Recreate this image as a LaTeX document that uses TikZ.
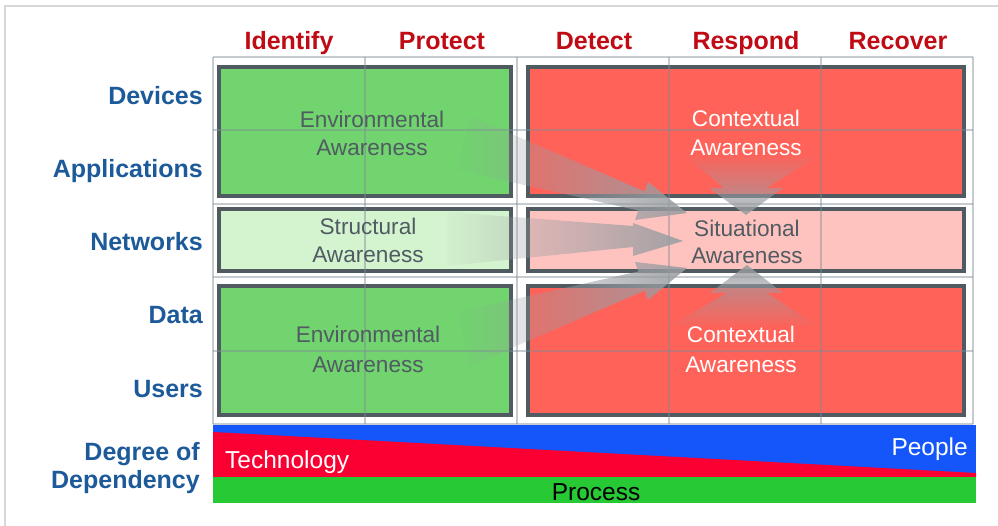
\documentclass[tikz,border=0pt]{standalone}
\usepackage{fontspec}
\setmainfont{Liberation Sans}
\usetikzlibrary{fadings}
\definecolor{labelblue}{HTML}{1D5A9A}
\definecolor{headred}{RGB}{192,10,20}
\definecolor{boxborder}{HTML}{4F5B60}
\definecolor{boxgreen}{HTML}{71D46E}
\definecolor{boxlgreen}{HTML}{D4F3CF}
\definecolor{boxred}{HTML}{FF6259}
\definecolor{boxpink}{HTML}{FFC3BF}
\definecolor{innertext}{HTML}{505B62}
\definecolor{arrowgray}{HTML}{9A9DA2}
\definecolor{gridgray}{HTML}{7F8C96}
\definecolor{barblue}{HTML}{1556FA}
\definecolor{barred}{HTML}{FA0032}
\definecolor{bargreen}{HTML}{27C934}
\definecolor{framegray}{HTML}{D5D8DB}
\tikzfading[name=fadeR, left color=transparent!97, right color=transparent!10]
\tikzfading[name=fadeD, top color=transparent!97, bottom color=transparent!10]
\tikzfading[name=fadeU, bottom color=transparent!97, top color=transparent!10]
\begin{document}
\begin{tikzpicture}[x=1pt,y=-1pt,
  rowlabel/.style={font=\fontsize{25}{30}\selectfont\bfseries, text=labelblue, anchor=base east, inner sep=0pt},
  colhead/.style={font=\fontsize{25}{30}\selectfont\bfseries, text=headred, anchor=base, inner sep=0pt},
  awbox/.style={draw=boxborder, line width=3.8pt},
  intext/.style={font=\fontsize{22.6}{27}\selectfont, text=innertext, anchor=base, inner sep=0pt},
  whtext/.style={font=\fontsize{22.6}{27}\selectfont, text=white, anchor=base, inner sep=0pt},
  gridline/.style={draw=gridgray, draw opacity=0.45, line width=1.5pt},
  bigarrow/.style={fill=arrowgray},
  bartext/.style={font=\fontsize{24.5}{29}\selectfont, inner sep=0pt}
]
\useasboundingbox (0,0) rectangle (998,526);
\fill[white] (0,0) rectangle (998,526);
% frame
\draw[framegray, line width=2pt] (5,526) -- (5,6) -- (998,6);

% awareness boxes
\draw[awbox, fill=boxgreen] (219,67) rectangle (511,196);
\draw[awbox, fill=boxlgreen] (219,209) rectangle (511,271);
\draw[awbox, fill=boxgreen] (219,286) rectangle (511,415);
\draw[awbox, fill=boxred] (528,67) rectangle (964,196);
\draw[awbox, fill=boxpink] (528,209) rectangle (964,271);
\draw[awbox, fill=boxred] (528,286) rectangle (964,415);

% grid
\foreach \gx in {213,365,517,669,821,973} {\draw[gridline] (\gx,57) -- (\gx,424);}
\foreach \gy in {57,130,204,277,351,424} {\draw[gridline] (213,\gy) -- (973,\gy);}

% block arrows
\fill[bigarrow, path fading=fadeR] (470,116) -- (644.7,191.5) -- (648,182) -- (687,213) -- (635,220) -- (638.3,210.5) -- (457,170) -- cycle;
\fill[bigarrow, path fading=fadeR] (447,212) -- (633,226) -- (633,223) -- (683,241) -- (633,256) -- (633,247) -- (447,266) -- cycle;
\fill[bigarrow, path fading=fadeR] (457,312) -- (638.3,271.5) -- (635,262) -- (687,268) -- (648,300) -- (644.7,290.5) -- (470,366) -- cycle;
\fill[bigarrow, path fading=fadeD] (684,155) -- (724,188) -- (709,188) -- (746,215) -- (783,188) -- (766,188) -- (820,155) -- cycle;
\fill[bigarrow, path fading=fadeU] (670,326) -- (727,293) -- (710,293) -- (747,265) -- (783,293) -- (767,293) -- (817,326) -- cycle;

% box texts
\node[intext] (env1a) at (372,128) {Environmental};
\node[intext] (env1b) at (372,156) {Awareness};
\node[intext] (str1a) at (368,235) {Structural};
\node[intext] (str1b) at (368,263) {Awareness};
\node[intext] (env2a) at (368,343) {Environmental};
\node[intext] (env2b) at (368,372) {Awareness};
\node[whtext] (ctx1a) at (746,127) {Contextual};
\node[whtext] (ctx1b) at (746,156) {Awareness};
\node[intext] (sit1a) at (747,237) {Situational};
\node[intext] (sit1b) at (747,264) {Awareness};
\node[whtext] (ctx2a) at (741,343) {Contextual};
\node[whtext] (ctx2b) at (741,372) {Awareness};

% column headers
\node[colhead] (hid) at (289,50) {Identify};
\node[colhead] (hpr) at (442,50) {Protect};
\node[colhead] (hde) at (594,50) {Detect};
\node[colhead] (hre) at (746,50) {Respond};
\node[colhead] (hrc) at (898,50) {Recover};

% row labels
\node[rowlabel] (ldev) at (203,105) {Devices};
\node[rowlabel] (lapp) at (203,178) {Applications};
\node[rowlabel] (lnet) at (203,251) {Networks};
\node[rowlabel] (ldat) at (203,324) {Data};
\node[rowlabel] (lusr) at (203,397) {Users};
\node[rowlabel] (ldeg) at (200,460) {Degree of};
\node[rowlabel] (ldep) at (200,488) {Dependency};

% dependency bar
\fill[barblue] (213,425) rectangle (976,477);
\fill[barred] (213,432) -- (976,473) -- (976,477) -- (213,477) -- cycle;
\fill[bargreen] (213,477) rectangle (976,503);
\node[bartext, text=white, anchor=base west] (ttech) at (225,468) {Technology};
\node[bartext, text=white, anchor=base east] (tpeop) at (968,455) {People};
\node[bartext, text=black, anchor=base] (tproc) at (596,500) {Process};
\end{tikzpicture}
\end{document}
